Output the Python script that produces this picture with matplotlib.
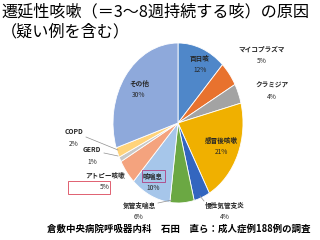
import matplotlib.pyplot as plt
import matplotlib.patches as mpatches
from matplotlib.lines import Line2D

plt.rcParams['font.family'] = ['Noto Sans CJK JP', 'DejaVu Sans']

#Data
causes  = ['百日咳', 'マイコプラズマ', 'クラミジア', '感冒後咳嗽', '慢性気管支炎',
           '気管支喘息', '咳喘息', 'アトピー咳嗽', 'GERD', 'COPD', 'その他']
shares  = [12, 5, 4, 21, 4, 6, 10, 5, 1, 2, 30]
colors  = ['#4F87C9', '#E8722E', '#A3A3A3', '#F0B000', '#3366BF', '#6BA843',
           '#A6C6EA', '#F4A37E', '#C8C8C8', '#FFD37A', '#8EA9DB']

#label positions in pixels (name, pct)
label_pos = [(200, 58), (262, 49), (272, 85), (221, 140), (225, 205),
             (139, 205), (153, 176), (105, 175), (92, 150), (74, 132), (139, 83)]

W, H = 320, 240
fig = plt.figure(figsize=(W/100, H/100), dpi=100)
fig.patch.set_facecolor('white')

#pie is an ellipse in the reference, centre (178,123), radii 65 x 80 px
cx, cy, rx, ry = 178, 123, 65, 80
ax = fig.add_axes([0, 0, 1, 1])
ax.pie(shares, colors=colors, startangle=90, counterclock=False,
       wedgeprops=dict(edgecolor='white', linewidth=0.6))
ax.set_aspect('auto')
ax.set_xlim(-cx/rx, (W-cx)/rx)
ax.set_ylim(-(H-cy)/ry, cy/ry)
ax.axis('off')

def fx(x): return x/W
def fy(y): return 1 - y/H

for name, val, (x, y) in zip(causes, shares, label_pos):
	fig.text(fx(x), fy(y), name, ha='center', va='center', fontsize=4.8,
	         color='#262626', fontweight='bold')
	fig.text(fx(x), fy(y+12), '%d%%' % val, ha='center', va='center',
	         fontsize=4.8, color='#262626')

#box around 咳喘息
fig.patches.append(mpatches.Rectangle((fx(142), fy(182)), 23/W, 12/H,
                   transform=fig.transFigure, fill=False, edgecolor='#B04080', lw=0.6))
#red-ish box under アトピー咳嗽
fig.patches.append(mpatches.Rectangle((fx(68), fy(194)), 42/W, 13/H,
                   transform=fig.transFigure, fill=False, edgecolor='#E06070', lw=0.7))

#leader lines
leaders = [((86, 137), (118, 150)), ((104, 153), (118, 156)),
           ((158, 203), (172, 200)), ((204, 201), (200, 196))]
for (x0, y0), (x1, y1) in leaders:
	fig.lines.append(Line2D([fx(x0), fx(x1)], [fy(y0), fy(y1)],
	                 transform=fig.transFigure, color='#909090', lw=0.5))

#titles
fig.text(fx(1), fy(12), '遷延性咳嗽（＝3～8週持続する咳）の原因', ha='left', va='center',
         fontsize=11.6, color='black')
fig.text(fx(1), fy(32), '（疑い例を含む）', ha='left', va='center',
         fontsize=11.6, color='black')
fig.text(fx(47), fy(229), '倉敷中央病院呼吸器内科　石田　直ら：成人症例188例の調査',
         ha='left', va='center', fontsize=6.8, color='black', fontweight='bold')

fig.savefig('out.png', dpi=100)
